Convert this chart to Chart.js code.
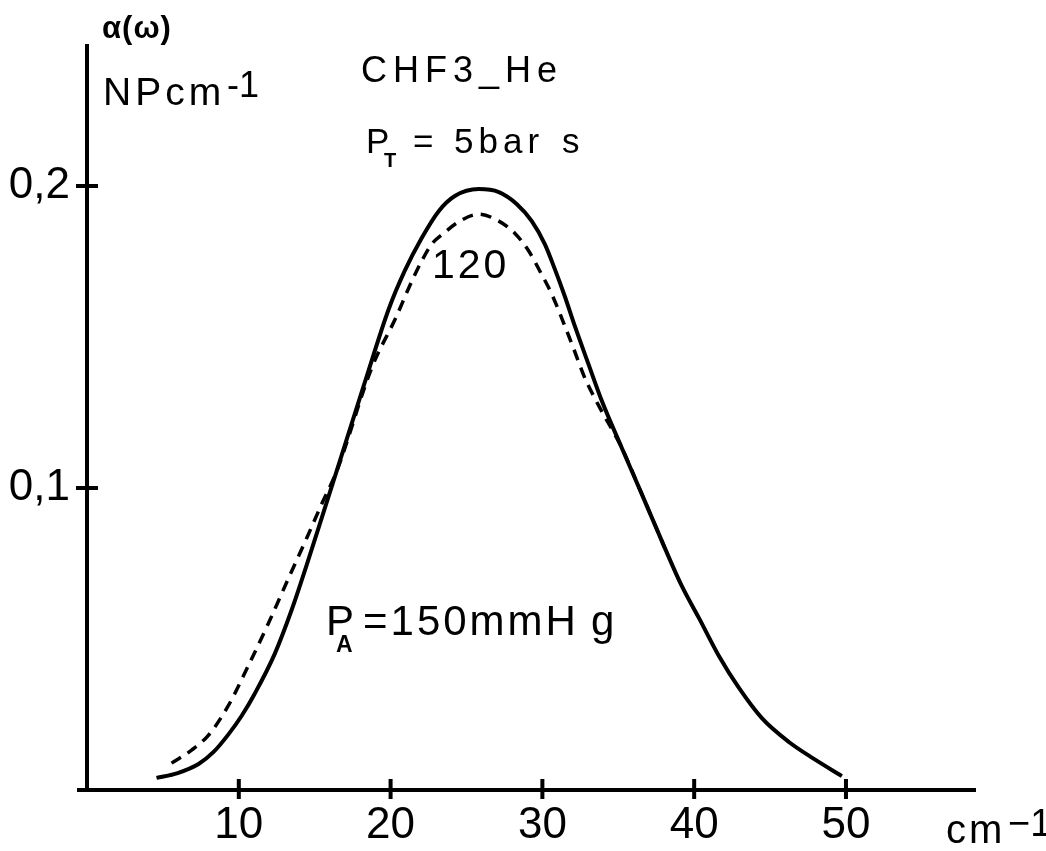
<!DOCTYPE html>
<html lang="fr">
<head>
    <meta charset="UTF-8">
    <script src="https://cdn.jsdelivr.net/npm/chart.js"></script>
    <title>CHF3_He</title>
    <style>
        body { margin: 0; background: #fff; }
        canvas { display: block; }
    </style>
</head>
<body>
    <canvas id="canvas" width="1046" height="851"></canvas>
    <script>
        // values (x in cm-1, alpha in NP cm-1)
        // solid curve: P_A = 150 mmHg
        const xSolid = [4.58, 5.97, 7.35, 8.34, 9.33, 10.18, 11.04, 12.36, 13.48, 14.47, 15.59, 16.78, 18.29, 19.88, 20.93, 22.05, 23.17, 24.23, 25.81,
                        27.13, 28.32, 29.30, 30.16, 30.82, 31.47, 32.14, 33.06, 33.92, 35.24, 36.55, 38.07, 39.19, 40.31, 41.63, 42.95, 44.46, 46.24, 47.89, 49.73];
        const ySolid = [0.0040, 0.0056, 0.0086, 0.0126, 0.0185, 0.0245, 0.0318, 0.0450, 0.0596, 0.0745, 0.0921, 0.1109, 0.1348, 0.1593, 0.1719, 0.1828, 0.1917, 0.1967, 0.1990,
                        0.1980, 0.1940, 0.1884, 0.1808, 0.1725, 0.1636, 0.1536, 0.1407, 0.1288, 0.1132, 0.0980, 0.0801, 0.0675, 0.0570, 0.0444, 0.0338, 0.0238, 0.0159, 0.0103, 0.0046];

        // dashed curve: 120 mmHg
        const xDashed = [5.57, 6.89, 8.01, 9.26, 10.65, 11.96, 13.28, 14.47, 15.46, 16.45, 18.75, 20.40, 21.19, 22.05, 22.71, 23.50, 24.56, 25.81,
                         27.13, 28.18, 29.10, 29.83, 30.62, 31.35, 32.07, 32.80, 33.72, 35.24, 36.55, 38.07];
        const yDashed = [0.0089, 0.0132, 0.0182, 0.0275, 0.0414, 0.0553, 0.0702, 0.0834, 0.0947, 0.1056, 0.1397, 0.1570, 0.1662, 0.1752, 0.1808, 0.1844, 0.1884, 0.1907,
                         0.1884, 0.1844, 0.1785, 0.1719, 0.1642, 0.1553, 0.1460, 0.1364, 0.1272, 0.1132, 0.0980, 0.0801];

        const xTicks = [10, 20, 30, 40, 50];
        const yTicks = [0.1, 0.2];

        const FONT = '"Liberation Sans", Arial, sans-serif';

        // cross shaped tick marks like the hand drawn axes
        const crossTicks = {
            id: 'crossTicks',
            afterDraw(chart) {
                const {ctx, chartArea, scales: {x, y}} = chart;
                ctx.save();
                ctx.strokeStyle = '#000';
                ctx.lineWidth = 4;
                ctx.beginPath();
                // x axis runs a little past the y axis
                ctx.moveTo(chartArea.left - 10, chartArea.bottom);
                ctx.lineTo(chartArea.left, chartArea.bottom);
                xTicks.forEach(v => {
                    const px = x.getPixelForValue(v);
                    ctx.moveTo(px, chartArea.bottom - 11);
                    ctx.lineTo(px, chartArea.bottom + 9);
                });
                yTicks.forEach(v => {
                    const py = y.getPixelForValue(v);
                    ctx.moveTo(chartArea.left - 11, py);
                    ctx.lineTo(chartArea.left + 11, py);
                });
                ctx.stroke();
                ctx.restore();
            }
        };

        function txt(ctx, s, x, y, size, opts = {}) {
            ctx.font = (opts.bold ? 'bold ' : '') + size + 'px ' + FONT;
            ctx.letterSpacing = (opts.sp || 0) + 'px';
            ctx.fillText(s, x, y);
        }

        const labels = {
            id: 'labels',
            afterDraw(chart) {
                const ctx = chart.ctx;
                ctx.save();
                ctx.fillStyle = '#000';
                ctx.textBaseline = 'alphabetic';
                ctx.textAlign = 'left';

                txt(ctx, 'α(ω)', 102, 38, 31, {bold: true, sp: 1});
                txt(ctx, 'NPcm', 103, 105, 39, {sp: 4});
                txt(ctx, '-1', 227, 97, 36);

                txt(ctx, 'CHF3_He', 361, 82, 36, {sp: 6});

                txt(ctx, 'P', 366, 153, 35);
                txt(ctx, 'T', 384, 167, 20, {bold: true});
                txt(ctx, '=', 413, 153, 35);
                txt(ctx, '5bar', 454, 153, 35, {sp: 5});
                txt(ctx, 's', 562, 153, 35);

                txt(ctx, '120', 432, 278, 41, {sp: 3});

                txt(ctx, 'P', 326, 635, 42);
                txt(ctx, 'A', 336, 652, 23, {bold: true});
                txt(ctx, '=150mmH', 363, 635, 42, {sp: 3});
                txt(ctx, 'g', 591, 635, 42);

                txt(ctx, 'cm', 946, 843, 40, {sp: 3});
                txt(ctx, '−1', 1008, 836, 38);
                ctx.restore();
            }
        };

        const ctx = document.getElementById('canvas').getContext('2d');

        new Chart(ctx, {
            type: 'scatter',
            data: {
                datasets: [
                    {
                        label: '150 mmHg',
                        data: xSolid.map((x, i) => ({x: x, y: ySolid[i]})),
                        showLine: true,
                        borderColor: '#000',
                        borderWidth: 4,
                        pointRadius: 0,
                        cubicInterpolationMode: 'monotone',
                    },
                    {
                        label: '120 mmHg',
                        data: xDashed.map((x, i) => ({x: x, y: yDashed[i]})),
                        showLine: true,
                        borderColor: '#000',
                        borderWidth: 3.5,
                        borderDash: [11, 8],
                        pointRadius: 0,
                        cubicInterpolationMode: 'monotone',
                    },
                ],
            },
            options: {
                responsive: false,
                animation: false,
                layout: { padding: { top: 46, right: 71, left: 0, bottom: 0 } },
                plugins: {
                    legend: { display: false },
                    tooltip: { enabled: false },
                },
                scales: {
                    x: {
                        type: 'linear',
                        min: 0,
                        max: 58.5,
                        afterBuildTicks: s => { s.ticks = xTicks.map(v => ({value: v})); },
                        afterFit: s => { s.height = 61; },
                        grid: { display: false, drawTicks: false },
                        border: { display: true, color: '#000', width: 4 },
                        ticks: {
                            color: '#000',
                            font: { family: FONT, size: 44 },
                            padding: 9,
                            maxRotation: 0,
                            autoSkip: false,
                        },
                    },
                    y: {
                        min: 0,
                        max: 0.2464,
                        afterBuildTicks: s => { s.ticks = yTicks.map(v => ({value: v})); },
                        afterFit: s => { s.width = 87; },
                        grid: { display: false, drawTicks: false },
                        border: { display: true, color: '#000', width: 4 },
                        ticks: {
                            color: '#000',
                            font: { family: FONT, size: 44 },
                            padding: 17,
                            callback: v => v.toFixed(1).replace('.', ','),
                        },
                    },
                },
            },
            plugins: [crossTicks, labels],
        });
    </script>
</body>
</html>
